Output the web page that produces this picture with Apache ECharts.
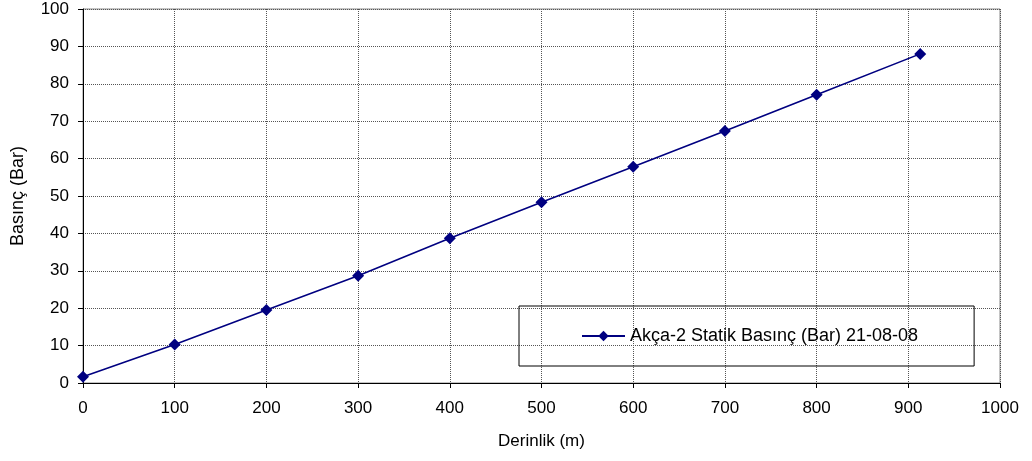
<!DOCTYPE html>
<html><head><meta charset="utf-8">
<script src="https://cdn.jsdelivr.net/npm/echarts@6/dist/echarts.min.js"></script>
<style>html,body{margin:0;padding:0;background:#fff}#c{width:1032px;height:461px}</style>
</head><body><div id="c"></div>
<script>
const depths = [0, 100, 200, 300, 400, 500, 600, 700, 800, 913];
const pressures = [1.7, 10.3, 19.5, 28.7, 38.7, 48.3, 57.8, 67.4, 77.1, 88.0];
const seriesName = 'Akça-2 Statik Basınç (Bar) 21-08-08';
const xName = 'Derinlik (m)';
const yName = 'Basınç (Bar)';

const chart = echarts.init(document.getElementById('c'), null, {renderer: 'canvas'});
const font = 'Liberation Sans, Arial, sans-serif';
const gridLine = {show: true, lineStyle: {color: '#555', type: [1, 1], width: 1}};
chart.setOption({
  animation: false,
  backgroundColor: '#fff',
  textStyle: {fontFamily: font},
  grid: {left: 83, right: 32, top: 9, bottom: 78, show: true, borderColor: '#888', borderWidth: 1},
  legend: {
    show: true,
    left: 519, top: 306,
    padding: [21, 56, 21, 62],
    borderColor: '#000', borderWidth: 1,
    itemWidth: 43, itemHeight: 13, itemGap: 5,
    textStyle: {fontSize: 18, color: '#000', fontFamily: font},
    data: [seriesName]
  },
  xAxis: {
    type: 'value', min: 0, max: 1000, interval: 100,
    name: xName, nameLocation: 'middle', nameGap: 50,
    nameTextStyle: {fontSize: 17, color: '#000', fontFamily: font},
    axisLine: {show: true, lineStyle: {color: '#000', width: 1}},
    axisTick: {show: true, length: 5, lineStyle: {color: '#000'}},
    axisLabel: {fontSize: 17, color: '#000', margin: 17, fontFamily: font, formatter: v => String(v)},
    splitLine: gridLine
  },
  yAxis: {
    type: 'value', min: 0, max: 100, interval: 10,
    name: yName, nameLocation: 'middle', nameGap: 56,
    nameTextStyle: {fontSize: 18, color: '#000', fontFamily: font},
    axisLine: {show: true, lineStyle: {color: '#000', width: 1}},
    axisTick: {show: true, length: 5, lineStyle: {color: '#000'}},
    axisLabel: {fontSize: 17, color: '#000', margin: 14, fontFamily: font, formatter: v => String(v)},
    splitLine: gridLine
  },
  series: [{
    name: seriesName, type: 'line',
    data: depths.map((d, i) => [d, pressures[i]]),
    symbol: 'diamond', symbolSize: 12,
    itemStyle: {color: '#000080'},
    lineStyle: {color: '#000080', width: 1.6}
  }]
});
</script></body></html>
